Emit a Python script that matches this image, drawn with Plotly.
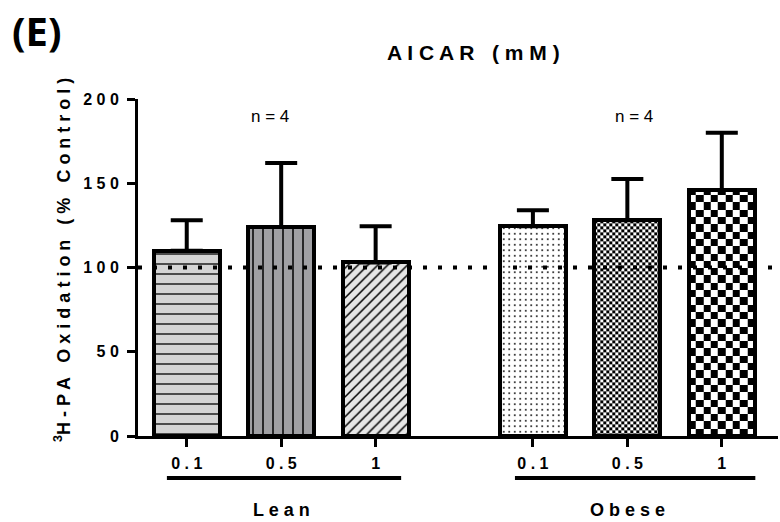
import numpy as np
import plotly.graph_objects as go

# ---------------- data ----------------
groups = ["Lean", "Obese"]
doses = ["0.1", "0.5", "1"]
lean_mean = [110, 124, 103]
lean_sem = [18, 38, 21.5]
obese_mean = [124.5, 128, 146]
obese_sem = [9.5, 24.5, 34]
n_labels = ["n = 4", "n = 4"]
y_ticks = [0, 50, 100, 150, 200]
control_level = 100

# ---------------- layout / style constants ----------------
W, H = 780, 522
ML, MR, MT, MB = 138, 2, 99, 86
GAP = 1.665
BAR_W = 0.7
XR = [-0.516, 6.26]
YR = [0, 200]
FONT = "Arial, Liberation Sans, sans-serif"

fills = ["#d4d4d4", "#a0a0a4", "#e6e6e6", "white", None, None]
shapes = ["-", "|", "/", ".", None, None]
psizes = [10, 10, 7, 5.5, None, None]
psolid = [0.13, 0.15, 0.22, 0.09, None, None]
checker_px = [None, None, None, None, 3.0, 7.3]
underline_ext = [(-0.21, 0.27), (-0.19, 0.355)]


def spaced(s):
    return " ".join(list(s))


pos = [0, 1, 2, 2 + GAP, 3 + GAP, 4 + GAP]
means = lean_mean + obese_mean
errs = lean_sem + obese_sem
tick_text = [spaced(d) for d in doses] * 2

PW, PH = W - ML - MR, H - MT - MB
px_per_x = PW / (XR[1] - XR[0])
px_per_y = PH / (YR[1] - YR[0])


def px_to_paper_x(px):
    return (px - ML) / PW


def px_to_paper_y(py):
    return (H - MB - py) / PH


fig = go.Figure()

# checkerboard fills (drawn below the bar outlines)
for i in range(len(pos)):
    if checker_px[i] is None:
        continue
    xc, top, cell = pos[i], means[i], checker_px[i]
    nx = int(round(BAR_W * px_per_x / cell))
    xe = np.linspace(xc - BAR_W / 2, xc + BAR_W / 2, nx + 1)
    ye = np.append(np.arange(0, top, cell / px_per_y), top)
    ny = len(ye) - 1
    z = (np.add.outer(np.arange(ny), np.arange(nx)) % 2).astype(float)
    fig.add_trace(go.Heatmap(x=xe, y=ye, z=z, zmin=0, zmax=1,
                             colorscale=[[0, "white"], [1, "black"]],
                             showscale=False, zsmooth=False, hoverinfo="skip"))

# bars
for i in range(len(pos)):
    marker = dict(line=dict(color="black", width=4))
    if shapes[i] is None:
        marker["color"] = "rgba(0,0,0,0)"
    else:
        marker["color"] = fills[i]
        marker["pattern"] = dict(shape=shapes[i], size=psizes[i],
                                 solidity=psolid[i], fgcolor="black",
                                 fgopacity=1, fillmode="overlay")
    fig.add_trace(go.Bar(
        x=[pos[i]], y=[means[i]], width=BAR_W, marker=marker,
        error_y=dict(type="data", symmetric=False, array=[errs[i]],
                     arrayminus=[0], thickness=4, width=16, color="black"),
        hoverinfo="skip",
    ))

# control line
fig.add_shape(type="line", xref="x", yref="y",
              x0=XR[0], x1=XR[0] + (772 - ML) / px_per_x,
              y0=control_level, y1=control_level,
              line=dict(color="black", width=4, dash="4px,11px"),
              layer="above")

# group underlines, labels and n
for gi, g in enumerate(groups):
    gp = pos[gi * 3:(gi + 1) * 3]
    lo, hi = underline_ext[gi]
    fig.add_shape(type="line", xref="x", yref="paper",
                  x0=gp[0] + lo, x1=gp[-1] + hi,
                  y0=px_to_paper_y(478), y1=px_to_paper_y(478),
                  line=dict(color="black", width=4))
    fig.add_annotation(x=gp[1], y=px_to_paper_y(510), xref="x", yref="paper",
                       xanchor="center", yanchor="middle",
                       text="<b>" + spaced(g) + "</b>", showarrow=False,
                       font=dict(size=18, color="black", family=FONT))
    fig.add_annotation(x=gp[1] - 0.12 + gi * 0.19, y=px_to_paper_y(117),
                       xref="x", yref="paper", xanchor="center", yanchor="middle",
                       text=n_labels[gi], showarrow=False,
                       font=dict(size=17, color="black", family=FONT))

fig.add_annotation(x=px_to_paper_x(473), y=px_to_paper_y(53),
                   xref="paper", yref="paper", xanchor="center", yanchor="middle",
                   text="<b>" + spaced("AICAR") + "   " + spaced("(mM)") + "</b>",
                   showarrow=False, font=dict(size=21, color="black", family=FONT))

fig.add_annotation(x=px_to_paper_x(62), y=px_to_paper_y(260),
                   xref="paper", yref="paper", xanchor="center", yanchor="middle",
                   textangle=-90,
                   text="<b><sup>3</sup>" + spaced("H-PA") + "   " + spaced("Oxidation")
                        + "   " + spaced("(%") + "   " + spaced("Control)") + "</b>",
                   showarrow=False, font=dict(size=18, color="black", family=FONT))

fig.add_annotation(x=px_to_paper_x(37), y=px_to_paper_y(31),
                   xref="paper", yref="paper", xanchor="center", yanchor="middle",
                   text="<b>(E)</b>", showarrow=False,
                   font=dict(size=40, color="black", family="Open Sans, sans-serif"))

fig.update_layout(
    width=W, height=H,
    margin=dict(l=ML, r=MR, t=MT, b=MB),
    plot_bgcolor="white", paper_bgcolor="white",
    showlegend=False, bargap=0, barmode="overlay",
    xaxis=dict(range=XR, tickvals=pos, ticktext=tick_text,
               showline=True, linecolor="black", linewidth=3,
               ticks="outside", ticklen=8, tickwidth=3, tickcolor="black",
               showgrid=False, zeroline=False, ticklabelstandoff=3,
               tickfont=dict(size=16, color="black", family=FONT, weight="bold")),
    yaxis=dict(range=YR, tickvals=y_ticks, ticktext=[spaced(str(v)) for v in y_ticks],
               showline=True, linecolor="black", linewidth=3,
               ticks="outside", ticklen=8, tickwidth=3, tickcolor="black",
               showgrid=False, zeroline=False, ticklabelstandoff=5,
               tickfont=dict(size=16, color="black", family=FONT, weight="bold")),
)

fig.write_html("out.html", config={"displayModeBar": False},
               post_script="document.body.style.margin='0';document.body.style.padding='0';")
